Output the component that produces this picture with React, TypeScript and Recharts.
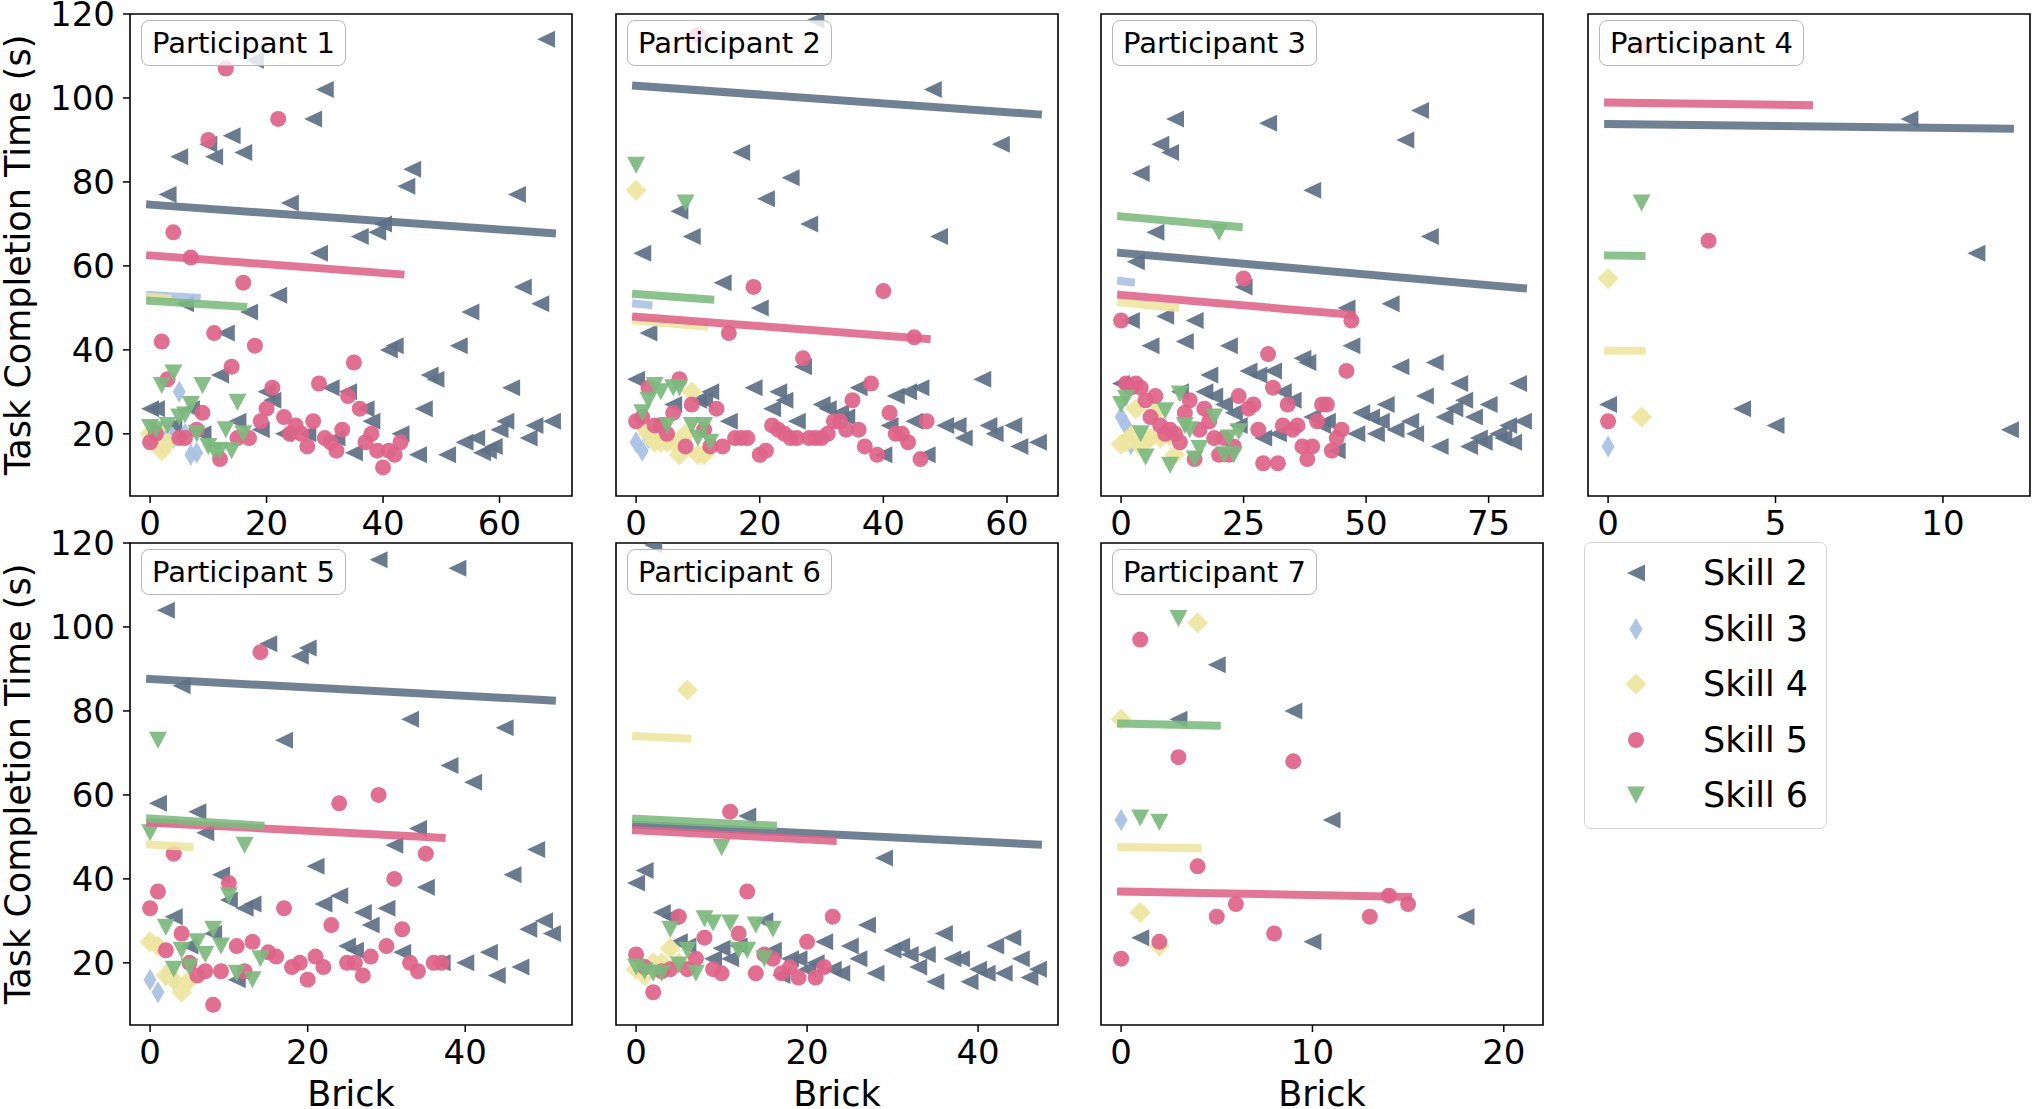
import React from 'react';
import { ScatterChart, Scatter, XAxis, YAxis, ReferenceArea } from 'recharts';

type Pt = [number, number];
// [skill index, x start, y start, x end, y end]
type Fit = [number, number, number, number, number];

const SKILLS = ['Skill 2', 'Skill 3', 'Skill 4', 'Skill 5', 'Skill 6'];
const PARTICIPANTS = ['Participant 1', 'Participant 2', 'Participant 3', 'Participant 4', 'Participant 5', 'Participant 6', 'Participant 7'];
const Y_TICKS = [20, 40, 60, 80, 100, 120];
const X_TICKS = [[0, 20, 40, 60], [0, 20, 40, 60], [0, 25, 50, 75], [0, 5, 10], [0, 20, 40], [0, 20, 40], [0, 10, 20]];

// participant 1
const P1_S2: Pt[] = [[68, 114], [18, 109], [30, 102], [28, 95], [14, 91], [5, 86], [11, 86], [16, 87], [10, 89], [3, 77], [24, 75], [45, 83], [44, 79], [63, 77], [36, 67], [39, 68], [40, 70], [29, 63], [22, 53], [64, 55], [67, 51], [55, 49], [17, 49], [6, 51], [13, 44], [41, 40], [42, 41], [53, 41], [12, 34], [48, 34], [49, 33], [31, 31], [34, 30], [62, 31], [47, 26], [37, 26], [38, 23], [20, 30], [21, 28], [0, 26], [1, 26], [7, 26], [15, 23], [19, 21], [23, 20], [27, 20], [32, 19], [35, 15.5], [43, 20], [46, 15], [51, 15], [54, 18], [56, 19], [57, 15.5], [58, 16], [59, 17], [60, 21], [61, 23], [65, 19], [66, 22], [69, 23], [4, 22], [9, 20]];
const P1_S3: Pt[] = [[0, 19], [1, 21], [2, 17.5], [3, 21], [4, 19], [5, 30], [6, 20], [7, 15], [8, 15.5]];
const P1_S4: Pt[] = [[0, 20], [1, 21], [2, 16], [3, 18]];
const P1_S5: Pt[] = [[13, 107], [22, 95], [10, 90], [4, 68], [7, 62], [16, 56], [2, 42], [11, 44], [18, 41], [35, 37], [14, 36], [3, 33], [21, 31], [29, 32], [9, 25], [20, 26], [23, 24], [34, 29], [36, 26], [25, 22], [28, 23], [24, 20], [26, 20], [27, 17], [30, 19], [31, 18], [32, 16], [37, 18], [38, 20], [39, 16], [40, 12], [41, 16], [42, 15], [43, 18], [8, 21], [15, 19], [17, 19], [12, 14], [0, 18], [5, 19], [6, 19], [1, 20], [19, 23], [33, 21]];
const P1_S6: Pt[] = [[0, 21.5], [1, 21], [2, 31.5], [3, 22], [4, 34.5], [5, 24], [6, 24.5], [7, 27], [8, 20], [9, 31.5], [10, 17], [11, 16], [12, 16], [13, 21], [14, 16], [15, 27.5], [16, 20]];
const P1_FITS: Fit[] = [[0, 0, 74.6, 69, 67.8], [1, 0, 53.1, 8, 52.4], [2, 0, 52.6, 3, 52.2], [3, 0, 62.5, 43, 58], [4, 0, 51.7, 16, 50.3]];

// participant 2
const P2_S2: Pt[] = [[29, 118.5], [48, 102], [59, 89], [17, 87], [25, 81], [21, 76], [7, 73], [28, 70], [9, 67], [49, 67], [1, 63], [14, 56], [20, 50], [2, 44], [27, 36], [0, 33], [56, 33], [19, 31], [23, 30], [12, 30], [11, 28], [24, 28], [22, 26], [30, 27], [31, 26], [36, 31], [42, 29], [44, 30], [46, 31], [6, 27], [26, 23], [15, 23], [34, 24], [45, 23], [41, 22], [50, 22], [52, 22], [53, 19], [57, 22], [58, 20], [61, 22], [62, 17], [65, 18], [40, 15], [47, 15], [33, 25], [10, 28]];
const P2_S3: Pt[] = [[0, 18], [1, 16], [2, 19]];
const P2_S4: Pt[] = [[0, 78], [1, 22], [2, 20], [3, 18], [4, 18], [5, 18], [6, 18], [7, 15], [8, 20], [9, 30], [10, 15], [11, 15]];
const P2_S5: Pt[] = [[10, 115], [19, 55], [40, 54], [15, 44], [45, 43], [27, 38], [7, 33], [38, 32], [2, 31], [35, 28], [9, 27], [13, 26], [6, 25], [41, 25], [47, 23], [0, 23], [32, 23], [3, 22], [22, 22], [23, 21], [24, 20], [25, 19], [26, 19], [28, 19], [29, 19], [30, 19], [31, 20], [34, 21], [36, 21], [42, 20], [43, 20], [44, 18], [37, 17], [39, 15], [46, 14], [16, 19], [17, 19], [18, 19], [14, 17], [20, 15], [21, 16], [8, 17], [12, 17], [1, 24], [4, 22], [5, 20], [11, 21], [33, 23]];
const P2_S6: Pt[] = [[0, 84], [1, 25], [2, 28], [3, 31.5], [4, 30], [5, 22], [6, 31], [7, 31], [8, 75], [9, 22], [10, 19], [11, 22], [12, 18]];
const P2_FITS: Fit[] = [[0, 0, 102.9, 65, 96.1], [1, 0, 51, 2, 50.7], [2, 0, 47, 11, 45.6], [3, 0, 47.9, 47, 42.6], [4, 0, 53.3, 12, 52]];

// participant 3
const P3_S2: Pt[] = [[61, 97], [11, 95], [30, 94], [58, 90], [8, 89], [10, 87], [4, 82], [39, 78], [7, 68], [63, 67], [3, 61], [25, 55], [46, 50], [55, 51], [2, 47], [9, 48], [15, 47], [6, 41], [13, 42], [22, 41], [47, 41], [37, 38], [38, 37], [57, 36], [64, 37], [18, 34], [26, 35], [28, 34], [31, 35], [69, 32], [81, 32], [0, 32], [17, 30], [19, 29], [12, 30], [21, 27], [33, 30], [35, 28], [62, 29], [54, 27], [70, 28], [75, 27], [23, 25], [39, 24], [42, 23], [49, 25], [51, 24], [53, 23], [59, 23], [66, 24], [68, 26], [72, 24], [82, 23], [24, 22], [29, 19], [32, 20], [41, 22], [48, 20], [52, 20], [56, 21], [60, 20], [65, 17], [71, 17], [73, 19], [74, 18], [77, 20], [78, 19], [79, 22], [80, 18], [44, 16]];
const P3_S3: Pt[] = [[0, 24], [1, 22], [2, 17.5]];
const P3_S4: Pt[] = [[0, 17.5], [1, 18], [2, 19.5], [3, 26], [4, 17], [5, 18.5], [6, 19], [7, 25], [8, 19], [9, 20], [10, 19.5], [11, 15]];
const P3_S5: Pt[] = [[25, 57], [0, 47], [47, 47], [30, 39], [46, 35], [1, 32], [3, 32], [4, 31], [7, 29], [31, 31], [24, 29], [14, 28], [27, 27], [26, 26], [34, 27], [41, 27], [42, 27], [17, 26], [13, 25], [40, 23], [33, 22], [35, 21], [36, 22], [28, 21], [45, 21], [16, 21], [44, 19], [9, 20], [11, 20], [12, 18], [19, 19], [21, 19], [23, 17], [37, 17], [39, 17], [38, 14], [43, 16], [20, 15], [22, 15], [15, 14], [29, 13], [32, 13], [2, 31], [5, 28], [6, 24], [8, 22], [10, 21], [18, 23]];
const P3_S6: Pt[] = [[0, 27], [1, 28.5], [4, 20], [5, 14.5], [9, 25.5], [10, 12.5], [12, 29.5], [13, 22], [14, 21], [15, 14], [16, 16.5], [19, 24], [20, 68], [21, 15], [22, 19], [23, 15], [24, 20.5]];
const P3_FITS: Fit[] = [[0, 0, 63.1, 82, 54.7], [1, 0, 56.4, 2, 56.1], [2, 0, 51.3, 11, 50], [3, 0, 53.1, 47, 48.4], [4, 0, 71.8, 24, 69.3]];

// participant 4
const P4_S2: Pt[] = [[0, 27], [4, 26], [5, 22], [9, 95], [11, 63], [12, 21]];
const P4_S3: Pt[] = [[0, 17]];
const P4_S4: Pt[] = [[0, 57], [1, 24]];
const P4_S5: Pt[] = [[0, 23], [1, 112], [3, 66]];
const P4_S6: Pt[] = [[1, 75]];
const P4_FITS: Fit[] = [[0, 0, 93.8, 12, 92.7], [2, 0, 39.8, 1, 39.8], [3, 0, 98.9, 6, 98.3], [4, 0, 62.5, 1, 62.4]];

// participant 5
const P5_S2: Pt[] = [[29, 116], [39, 114], [2, 104], [15, 96], [19, 93], [20, 95], [4, 86], [33, 78], [45, 76], [17, 73], [38, 67], [41, 63], [1, 58], [6, 56], [7, 51], [34, 52], [31, 48], [49, 47], [21, 43], [9, 41], [46, 41], [35, 38], [10, 35], [22, 34], [24, 36], [12, 33], [13, 34], [3, 31], [27, 32], [30, 33], [28, 29], [8, 27], [48, 28], [50, 30], [51, 27], [25, 24], [26, 23], [5, 24], [32, 22.5], [43, 22.5], [37, 20], [40, 20], [11, 16], [44, 17], [47, 19]];
const P5_S3: Pt[] = [[0, 16], [1, 13], [2, 17], [3, 16]];
const P5_S4: Pt[] = [[0, 25], [1, 24], [2, 17], [3, 16], [4, 13], [5, 16]];
const P5_S5: Pt[] = [[14, 94], [29, 60], [24, 58], [3, 46], [35, 46], [31, 40], [10, 39], [1, 37], [0, 33], [17, 33], [23, 29], [32, 28], [4, 27], [13, 25], [11, 24], [30, 24], [2, 23], [15, 22.5], [16, 21.5], [21, 21.5], [28, 21.5], [5, 20], [19, 20], [18, 19], [22, 19], [25, 20], [26, 20], [33, 20], [36, 20], [37, 20], [34, 18], [7, 18], [9, 18], [12, 18], [6, 17], [27, 17], [20, 16], [8, 10]];
const P5_S6: Pt[] = [[0, 51], [1, 73], [2, 28.5], [3, 18.5], [4, 23], [5, 19], [6, 25], [7, 22], [8, 28], [9, 24], [10, 36], [11, 17.5], [12, 48], [13, 16], [14, 21]];
const P5_FITS: Fit[] = [[0, 0, 87.6, 51, 82.5], [1, 0, 53.5, 3, 53.4], [2, 0, 48.2, 5, 47.6], [3, 0, 53.4, 37, 49.8], [4, 0, 54.4, 14, 52.7]];

// participant 6
const P6_S2: Pt[] = [[2, 119.5], [13, 55], [29, 45], [1, 42], [0, 39], [3, 32], [4, 31], [15, 30], [27, 29], [5, 25], [6, 24], [36, 27], [44, 26], [12, 24], [10, 23.5], [22, 25], [25, 24], [42, 24], [30, 23], [31, 24], [32, 22], [34, 22], [45, 21], [26, 21], [37, 21], [38, 21], [9, 21], [11, 21], [18, 21], [19, 21], [16, 23], [33, 19], [21, 20], [20, 18.5], [23, 18.5], [24, 17.5], [28, 17.5], [40, 18.5], [41, 17.5], [43, 17.5], [47, 18.5], [46, 16.5], [35, 15.5], [39, 15.5], [17, 17]];
const P6_S3: Pt[] = [];
const P6_S4: Pt[] = [[0, 18.5], [1, 17], [2, 20], [3, 20], [4, 23.5], [5, 20], [6, 85]];
const P6_S5: Pt[] = [[0, 22], [1, 19], [2, 13], [3, 18], [4, 18.5], [5, 31], [6, 18.5], [7, 21], [8, 26], [9, 18.5], [10, 17.5], [11, 56], [12, 27], [13, 37], [14, 17.5], [15, 22], [16, 21], [17, 17.5], [18, 19], [19, 16.5], [20, 25], [21, 16.5], [22, 19], [23, 31]];
const P6_S6: Pt[] = [[0, 19], [1, 18], [2, 17.5], [3, 17.5], [4, 28], [5, 19.5], [6, 23], [7, 17.5], [8, 30.5], [9, 29.5], [10, 47.5], [11, 29.5], [12, 23], [13, 23], [14, 29], [15, 21], [16, 28]];
const P6_FITS: Fit[] = [[0, 0, 52.9, 47, 48.2], [2, 0, 74, 6, 73.4], [3, 0, 51.6, 23, 49.1], [4, 0, 54.3, 16, 52.7]];

// participant 7
const P7_S2: Pt[] = [[1, 26], [3, 78], [5, 91], [9, 80], [10, 25], [11, 54], [18, 31]];
const P7_S3: Pt[] = [[0, 54]];
const P7_S4: Pt[] = [[0, 78], [1, 32], [2, 24], [4, 101]];
const P7_S5: Pt[] = [[0, 21], [1, 97], [2, 25], [3, 69], [4, 43], [5, 31], [6, 34], [8, 27], [9, 68], [13, 31], [14, 36], [15, 34]];
const P7_S6: Pt[] = [[1, 54.5], [2, 53.5], [3, 102]];
const P7_FITS: Fit[] = [[2, 0, 47.6, 4, 47.3], [3, 0, 37, 15, 35.7], [4, 0, 77, 5, 76.5]];

const POINTS: Pt[][][] = [
  [P1_S2, P1_S3, P1_S4, P1_S5, P1_S6],
  [P2_S2, P2_S3, P2_S4, P2_S5, P2_S6],
  [P3_S2, P3_S3, P3_S4, P3_S5, P3_S6],
  [P4_S2, P4_S3, P4_S4, P4_S5, P4_S6],
  [P5_S2, P5_S3, P5_S4, P5_S5, P5_S6],
  [P6_S2, P6_S3, P6_S4, P6_S5, P6_S6],
  [P7_S2, P7_S3, P7_S4, P7_S5, P7_S6],
];
const FITS: Fit[][] = [P1_FITS, P2_FITS, P3_FITS, P4_FITS, P5_FITS, P6_FITS, P7_FITS];

// axis ranges (matplotlib-style 5% margins)
const X_DOMAINS: [number, number][] = [[-3.45, 72.45], [-3.25, 68.25], [-4.1, 86.1], [-0.6, 12.6], [-2.55, 53.55], [-2.35, 49.35], [-1.05, 22.05]];
const Y_DOMAIN: [number, number] = [5.2, 120];

const COLORS = ['#5d7085', '#a8c0e4', '#eee59e', '#de6389', '#7cb97d'];
const FONT = 'DejaVu Sans, sans-serif';

const PLOT_W = 442;
const PLOT_H = 482;
const AX_W = 130;
const TOP = 24;
const RIGHT = 12;
const AX_H = 90;
const COL_X = [130, 616, 1101, 1588];
const ROW_Y = [14, 543];

const Marker = ({ kind, cx, cy, color }: { kind: number; cx: number; cy: number; color: string }) => {
  const fill = { fill: color, fillOpacity: 0.92 };
  switch (kind) {
    case 0:
      return <polygon points={`${cx - 9},${cy} ${cx + 9},${cy - 8.5} ${cx + 9},${cy + 8.5}`} {...fill} />;
    case 1:
      return <polygon points={`${cx},${cy - 11} ${cx + 6.5},${cy} ${cx},${cy + 11} ${cx - 6.5},${cy}`} {...fill} />;
    case 2:
      return <polygon points={`${cx},${cy - 10.5} ${cx + 10.5},${cy} ${cx},${cy + 10.5} ${cx - 10.5},${cy}`} {...fill} />;
    case 3:
      return <circle cx={cx} cy={cy} r={8} {...fill} />;
    default:
      return <polygon points={`${cx - 9},${cy - 8.5} ${cx + 9},${cy - 8.5} ${cx},${cy + 8.5}`} {...fill} />;
  }
};

const shapeFor = (kind: number) => (p: any) => {
  if (p.cx == null || p.cy == null) return <g />;
  return <Marker kind={kind} cx={p.cx} cy={p.cy} color={COLORS[kind]} />;
};

const Panel = ({ i }: { i: number }) => {
  const col = i % 4;
  const row = Math.floor(i / 4);
  const dom = X_DOMAINS[i];
  const tickStyle = { fontSize: 34, fill: '#000', fontFamily: FONT };
  return (
    <div style={{ position: 'absolute', left: COL_X[col] - AX_W, top: ROW_Y[row] - TOP }}>
      <ScatterChart
        width={AX_W + PLOT_W + RIGHT}
        height={TOP + PLOT_H + AX_H}
        margin={{ top: TOP, right: RIGHT, bottom: 0, left: 0 }}
      >
        <XAxis
          type="number"
          dataKey="x"
          domain={dom}
          ticks={X_TICKS[i]}
          interval={0}
          allowDataOverflow
          height={AX_H}
          axisLine={false}
          stroke="#000"
          tickLine={{ stroke: '#000', strokeWidth: 1.5 }}
          tickSize={7}
          tickMargin={8}
          tick={tickStyle}
          label={row === 1 ? { value: 'Brick', position: 'insideBottom', offset: 9, style: { fontSize: 35, fill: '#000', fontFamily: FONT } } : undefined}
        />
        <YAxis
          type="number"
          dataKey="y"
          domain={Y_DOMAIN}
          ticks={Y_TICKS}
          interval={0}
          allowDataOverflow
          width={AX_W}
          axisLine={false}
          stroke="#000"
          tickLine={{ stroke: '#000', strokeWidth: 1.5 }}
          tickSize={7}
          tickMargin={8}
          tick={col === 0 ? tickStyle : false}
          label={col === 0 ? {
            value: 'Task Completion Time (s)',
            angle: -90,
            position: 'insideLeft',
            offset: 18,
            style: { textAnchor: 'middle', fontSize: 35, fill: '#000', fontFamily: FONT },
          } : undefined}
        />
        {POINTS[i].map((pts, k) => (
          <Scatter
            key={`s${k}`}
            name={SKILLS[k]}
            data={pts.map(([x, y]) => ({ x, y }))}
            fill={COLORS[k]}
            shape={shapeFor(k)}
            isAnimationActive={false}
          />
        ))}
        {FITS[i].map(([k, x0, y0, x1, y1], j) => (
          <Scatter
            key={`f${j}`}
            data={[{ x: x0, y: y0 }, { x: x1, y: y1 }]}
            fill={COLORS[k]}
            line={{ stroke: COLORS[k], strokeWidth: 8, strokeLinecap: 'square', strokeOpacity: 0.88 }}
            shape={() => <g />}
            isAnimationActive={false}
          />
        ))}
        <ReferenceArea
          x1={dom[0]}
          x2={dom[1]}
          y1={Y_DOMAIN[0]}
          y2={Y_DOMAIN[1]}
          fill="none"
          fillOpacity={0}
          stroke="#000"
          strokeWidth={1.6}
          strokeOpacity={1}
          ifOverflow="visible"
        />
      </ScatterChart>
      <div
        style={{
          position: 'absolute',
          left: AX_W + 11,
          top: TOP + 6,
          height: 46,
          boxSizing: 'border-box',
          padding: '0 10px',
          lineHeight: '45px',
          fontSize: 29,
          fontFamily: FONT,
          color: '#000',
          whiteSpace: 'nowrap',
          border: '1.5px solid #b8b8b8',
          borderRadius: 8,
          background: 'rgba(255,255,255,0.8)',
        }}
      >
        {PARTICIPANTS[i]}
      </div>
    </div>
  );
};

const LegendBox = () => (
  <div
    style={{
      position: 'absolute',
      left: 1584,
      top: 542,
      width: 243,
      height: 287,
      boxSizing: 'border-box',
      border: '1.5px solid #d4d4d4',
      borderRadius: 7,
      background: '#fff',
      fontFamily: FONT,
    }}
  >
    {SKILLS.map((s, k) => {
      const cy = 30 + k * 55.5;
      return (
        <React.Fragment key={s}>
          <svg style={{ position: 'absolute', left: 34, top: cy - 15 }} width={34} height={30}>
            <Marker kind={k} cx={17} cy={15} color={COLORS[k]} />
          </svg>
          <div style={{ position: 'absolute', left: 118, top: cy - 20, lineHeight: '40px', fontSize: 35, color: '#000', whiteSpace: 'nowrap' }}>
            {s}
          </div>
        </React.Fragment>
      );
    })}
  </div>
);

export default function App() {
  return (
    <div style={{ position: 'absolute', left: 0, top: 0, width: 2032, height: 1109, overflow: 'hidden', background: '#fff', fontFamily: FONT }}>
      {PARTICIPANTS.map((_, i) => (
        <Panel key={i} i={i} />
      ))}
      <LegendBox />
    </div>
  );
}
